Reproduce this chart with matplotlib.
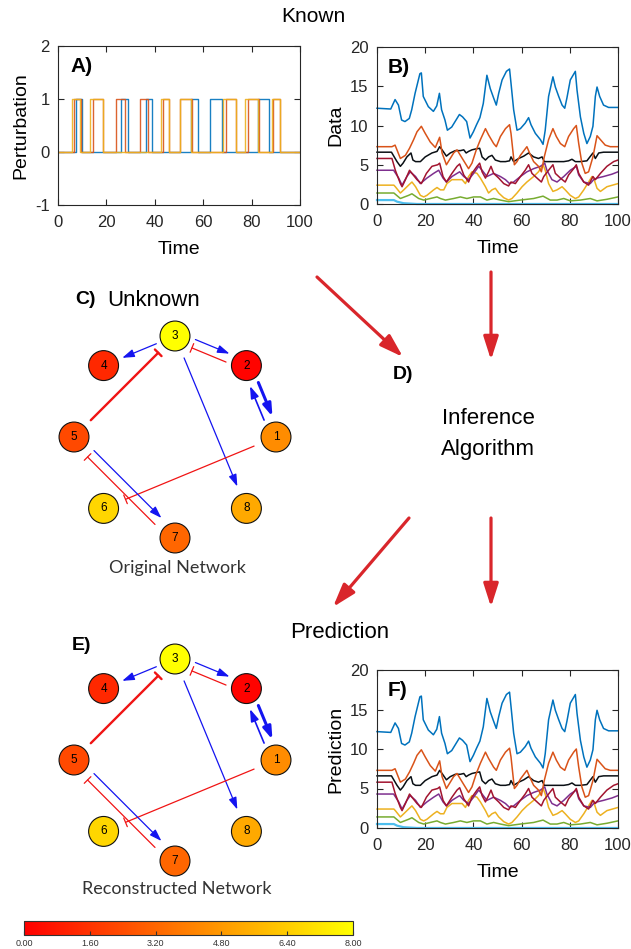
import numpy as np
import matplotlib
matplotlib.use("Agg")
import matplotlib.pyplot as plt
from matplotlib.patches import Circle, FancyArrowPatch
from matplotlib.colors import LinearSegmentedColormap, Normalize
import matplotlib.cm as cm

plt.rcParams['font.family'] = ['Liberation Sans', 'DejaVu Sans']
plt.rcParams['axes.unicode_minus'] = False

W, H = 631, 949

# ---- panel A: perturbation pulses (on, off) per input ----
pert_blue = [(7.3, 10), (26, 28.8), (36.2, 38.7), (55, 58), (62.8, 67.6), (82.5, 87)]
pert_orange = [(6.7, 9.5), (14.6, 18.6), (24.1, 27.8), (34, 37.3), (43.2, 46),
               (50.4, 55.5), (69.4, 73.6), (78.4, 82.9), (89, 91.7)]
pert_yellow = [(5.9, 9.1), (13.4, 18.5), (42.6, 46), (50.4, 55), (68, 73.6),
               (77.4, 82.5), (88.5, 91.7)]

# ---- panel B / F: time courses (time, value) ----
blue = [(0, 12.2), (5.7, 12.1), (7.5, 13.3), (8.9, 12.6), (10.2, 10.7), (11.6, 10.5), (13.4, 10.9),
        (14.4, 12.0), (15.8, 14.1), (17.8, 16.6), (18.4, 16.7), (19.2, 13.7), (21.3, 12.4),
        (23.4, 11.8), (24.8, 12.5), (25.9, 14.1), (26.8, 12.0), (28.2, 10.7), (29.2, 9.4),
        (31, 9.8), (32.8, 10.7), (34.2, 11.4), (35.5, 11.1), (37.2, 10.5), (38.6, 8.4),
        (40, 9.2), (41.3, 10.1), (42.7, 11.0), (44.1, 12.8), (45.6, 16.4), (47, 14.7),
        (48.4, 13.5), (49.5, 12.6), (50.5, 14.1), (51.9, 15.8), (53.7, 16.9), (55, 17.2),
        (55.6, 15.4), (56.7, 12.0), (58.1, 9.4), (59.5, 9.6), (61.5, 10.3), (62.9, 11.0),
        (63.9, 10.1), (65.7, 9.0), (67.8, 8.2), (68.9, 7.6), (69.8, 9.4), (71.2, 13.7),
        (73, 16.2), (74, 14.9), (75.4, 13.7), (76.8, 12.6), (77.9, 12.2), (78.8, 13.5),
        (80.2, 15.8), (82.3, 16.9), (83, 14.5), (84.4, 11.1), (85.8, 9.0), (87.1, 7.7),
        (88.5, 8.6), (89.6, 9.9), (90.6, 13.7), (91.3, 14.9), (92.4, 13.7), (94, 12.6),
        (96.1, 12.3), (100, 12.3)]
orange = [(0, 7.3), (6.2, 7.3), (7.5, 7.5), (9.7, 5.8), (11.8, 6.2), (13.5, 7.1), (15.2, 8.2),
          (16.6, 9.2), (18.4, 9.9), (20, 9.0), (22.1, 7.9), (24.2, 7.2), (26, 8.5), (27, 6.5),
          (28.8, 5.0), (30.4, 5.8), (31.8, 6.5), (33.2, 6.9), (34.6, 6.2), (36.2, 5.4), (38, 4.5),
          (39.4, 5.2), (41.2, 6.9), (42.9, 8.2), (45, 9.6), (46.3, 8.8), (48.4, 7.7), (49.5, 7.3),
          (51.2, 8.6), (53.3, 9.6), (55, 10.1), (55.6, 9.0), (57, 5.0), (58.1, 5.4), (59.5, 6.2),
          (62.2, 7.3), (63.3, 6.5), (65, 5.4), (67, 4.8), (68.2, 4.1), (69.4, 6.0), (71.2, 8.2),
          (73, 9.6), (74.4, 8.6), (76.1, 7.7), (77.9, 7.3), (79.5, 8.6), (81.6, 9.6), (82.7, 10.0),
          (83.7, 7.7), (85, 5.2), (86.4, 3.9), (87.8, 4.1), (89.6, 6.0), (91.3, 8.7), (92.7, 8.2),
          (94.7, 7.5), (96.8, 7.3), (100, 7.3)]
black = [(0, 6.6), (6, 6.6), (8.3, 5.4), (9.7, 4.8), (10.8, 5.2), (12.4, 6.0), (14.1, 6.5), (14.9, 5.6),
         (16, 5.4), (18, 5.4), (20, 6.0), (22.8, 6.5), (24.9, 6.7), (26, 7.3), (27, 6.9), (28.8, 6.1),
         (30.4, 6.5), (32.5, 6.8), (34.6, 6.8), (36, 6.9), (37, 6.5), (38, 6.7), (39.4, 6.9),
         (40.8, 7.0), (42.6, 7.1), (43.6, 6.0), (45, 5.6), (46.3, 6.0), (47.7, 6.2), (49.1, 5.6),
         (51.2, 5.4), (53.3, 5.4), (55, 5.5), (55.6, 6.0), (56.7, 5.4), (58.8, 5.8), (60.9, 6.1),
         (62.9, 6.5), (65, 6.0), (67, 5.8), (68.5, 6.0), (69.4, 5.4), (71.9, 5.4), (74.7, 5.4),
         (77.5, 5.4), (79.5, 5.5), (80.9, 5.7), (82.3, 5.4), (84.4, 5.4), (87.1, 5.5), (89.6, 6.5),
         (90.6, 5.8), (92, 6.5), (94, 6.6), (100, 6.6)]
darkred = [(0, 5.8), (6.2, 5.8), (7.6, 4.3), (9.7, 2.6), (10.4, 2.2), (11.8, 3.1), (13.5, 4.3),
           (14.5, 3.9), (16.6, 3.1), (18.4, 2.6), (20.5, 3.9), (22.8, 4.8), (25.2, 5.0), (26, 5.2),
           (27.4, 3.5), (28.8, 2.8), (31.1, 3.9), (33.2, 4.8), (34.3, 5.1), (36, 3.7), (38, 2.8),
           (39.4, 3.9), (41.5, 4.8), (42.6, 5.2), (43.6, 4.1), (45, 3.3), (46.3, 4.1), (47.3, 4.8),
           (48.4, 3.9), (50.5, 3.3), (52.6, 2.6), (54.6, 2.3), (55.6, 2.8), (57.4, 2.6), (59.5, 3.5),
           (61.5, 4.3), (62.9, 5.0), (64.3, 3.9), (66.4, 3.3), (68.2, 2.8), (69.2, 3.5), (71.2, 4.3),
           (73, 5.0), (74, 3.9), (76.1, 3.3), (78.1, 2.8), (79.5, 3.7), (81.6, 4.5), (82.7, 5.0),
           (83.7, 3.9), (85.8, 2.8), (87.8, 2.4), (89.6, 3.5), (90.6, 3.1), (92.7, 3.9), (95.4, 4.8),
           (98.2, 5.4), (100, 5.6)]
purple = [(0, 4.3), (6.9, 4.3), (9, 3.3), (10.4, 2.4), (12.4, 3.5), (13.8, 4.1), (16, 3.5), (18, 2.6),
          (20.7, 3.3), (23.5, 3.9), (25.6, 4.3), (27.4, 3.3), (28.8, 2.8), (31.1, 3.5), (33.2, 3.9),
          (34.3, 4.1), (36, 3.5), (38, 3.1), (40.1, 3.9), (42.2, 4.8), (43.6, 4.3), (45.6, 3.5),
          (48.4, 3.9), (51.2, 3.5), (53.3, 3.1), (55, 2.6), (56.7, 2.8), (59.5, 3.5), (62.2, 4.1),
          (65, 4.5), (67.8, 4.8), (69.6, 5.2), (70.5, 4.3), (72.6, 3.1), (74.7, 2.8), (77.5, 3.5),
          (80.2, 4.3), (82.7, 4.8), (83.7, 3.7), (85.8, 2.8), (88.5, 2.6), (89.9, 3.1), (91.3, 3.3),
          (94, 3.5), (97.5, 3.8), (100, 4.1)]
yellow = [(0, 2.4), (7, 2.4), (7.6, 2.2), (9.7, 1.4), (11.1, 1.8), (13.1, 2.4), (14.5, 2.8), (16, 2.2),
          (18, 1.1), (19.4, 0.9), (20.7, 1.1), (23.5, 1.8), (24.9, 2.1), (26.3, 1.8), (27.7, 1.8),
          (29, 2.6), (31.1, 3.1), (33.2, 3.1), (35.3, 3.1), (36.7, 2.6), (38, 3.5), (39.4, 4.1),
          (41.5, 3.9), (42.9, 3.3), (45, 2.2), (46.3, 1.4), (47.7, 1.8), (49.1, 2.0), (50.5, 1.4),
          (52.6, 0.8), (54.6, 0.5), (56, 0.7), (58.1, 1.4), (60.2, 2.2), (62.2, 2.8), (65, 3.5),
          (67, 4.1), (68.9, 5.0), (69.8, 4.3), (71.2, 2.6), (73, 1.6), (74.7, 1.8), (76.8, 2.2),
          (78.1, 1.8), (80.2, 1.1), (82.3, 0.7), (83.7, 0.9), (85.8, 1.8), (87.8, 2.8), (89.2, 3.5),
          (89.9, 3.3), (91.3, 2.0), (92.7, 1.6), (95.4, 2.2), (100, 2.6)]
green = [(0, 1.4), (7, 1.4), (9.7, 0.7), (13.1, 1.1), (14.5, 1.3), (17.3, 0.7), (19.4, 0.5),
         (22.1, 0.7), (24.9, 0.9), (26.3, 0.7), (28.4, 0.5), (31.8, 0.7), (34.6, 0.9), (37.3, 0.7),
         (40.1, 0.9), (42.9, 0.9), (45.6, 0.5), (48.4, 0.7), (51.2, 0.5), (54.6, 0.3), (59.5, 0.5),
         (65, 0.7), (68.9, 1.0), (71.9, 0.5), (74.7, 0.5), (77.5, 0.7), (80.2, 0.4), (84.4, 0.5),
         (88.5, 0.7), (91.3, 0.4), (95.4, 0.6), (100, 0.9)]
lightblue = [(0, 0.5), (7, 0.5), (8.3, 0.3), (11, 0.1), (16.6, 0.0), (100, 0.0)]

series = [(lightblue, '#4DBEEE'), (green, '#77AC30'), (yellow, '#EDB120'), (purple, '#7E2F8E'),
          (darkred, '#A2142F'), (black, '#0a0f14'), (orange, '#D95319'), (blue, '#0072BD')]

# ---- networks ----
ring_order = [3, 2, 1, 8, 7, 6, 5, 4]   # clockwise from top
node_level = {1: 4.4, 2: 0.1, 3: 8.0, 4: 1.25, 5: 2.3, 6: 6.7, 7: 3.2, 8: 5.3}
# (source, target, kind, line width)
edges = [(3, 4, 'act', 0.9), (5, 3, 'inh', 1.7), (3, 2, 'act', 0.9), (2, 3, 'inh', 0.9),
         (2, 1, 'act', 2.2), (1, 2, 'act', 1.2), (3, 8, 'act', 0.9), (1, 6, 'inh', 0.9),
         (5, 7, 'act', 0.9), (7, 5, 'inh', 0.9)]
cbar_ticks = [0.0, 1.6, 3.2, 4.8, 6.4, 8.0]

cmap = LinearSegmentedColormap.from_list('ry', ['#ff0000', '#ffff00'])
norm = Normalize(0, 8)


def box(x0, y0, x1, y1):
    return [x0 / W, 1 - y1 / H, (x1 - x0) / W, (y1 - y0) / H]


def matlab_axes(ax):
    for s in ax.spines.values():
        s.set_color('#262626')
        s.set_linewidth(0.8)
    ax.tick_params(direction='in', top=True, right=True, length=4, labelsize=12,
                   colors='#262626', pad=6)
    ax.tick_params(axis='x', pad=7)


def steps(pulses):
    t, v = [0], [0]
    for a, b in pulses:
        t += [a, a, b, b]
        v += [0, 1, 1, 0]
    t.append(100)
    v.append(0)
    return t, v


fig = plt.figure(figsize=(W / 100, H / 100), dpi=100)

# panel A
axA = fig.add_axes(box(58, 46, 300, 205))
for pulses, col in [(pert_blue, '#0072BD'), (pert_orange, '#D95319'), (pert_yellow, '#EDB120')]:
    t, v = steps(pulses)
    axA.plot(t, v, color=col, lw=1.0, alpha=0.9)
axA.set_xlim(0, 100)
axA.set_ylim(-1, 2)
axA.set_yticks([-1, 0, 1, 2])
axA.set_xticks(range(0, 101, 20))
axA.set_xlabel('Time', fontsize=14, labelpad=8)
axA.set_ylabel('Perturbation', fontsize=14, labelpad=4)
axA.text(0.05, 0.87, 'A)', transform=axA.transAxes, fontsize=15, weight='bold', va='center')
matlab_axes(axA)


def plot_series(ax, ylabel, tag):
    for pts, col in series:
        t = [p[0] for p in pts]
        v = [p[1] for p in pts]
        lw = 1.6 if col == '#4DBEEE' else 1.1
        ax.plot(t, v, color=col, lw=lw, clip_on=False, solid_joinstyle='round')
    ax.set_xlim(0, 100)
    ax.set_ylim(0, 20)
    ax.set_yticks([0, 5, 10, 15, 20])
    ax.set_xticks(range(0, 101, 20))
    ax.set_xlabel('Time', fontsize=14, labelpad=8)
    ax.set_ylabel(ylabel, fontsize=14, labelpad=4)
    ax.text(0.045, 0.87, tag, transform=ax.transAxes, fontsize=15, weight='bold', va='center')
    matlab_axes(ax)


axB = fig.add_axes(box(377, 47, 618, 204))
plot_series(axB, 'Data', 'B)')
axF = fig.add_axes(box(377, 670, 618, 828))
plot_series(axF, 'Prediction', 'F)')


def draw_network(cx, cy, r):
    ax = fig.add_axes(box(cx - 135, cy - 127, cx + 135, cy + 128))
    ax.set_xlim(-135 / r, 135 / r)
    ax.set_ylim(-128 / r, 127 / r)
    ax.axis('off')
    ang = np.pi / 2 - np.arange(8) * np.pi / 4
    pos = {n: np.array([np.cos(a), np.sin(a)]) for n, a in zip(ring_order, ang)}
    pair = {(a, b) for a, b, _, _ in edges}
    for a, b, kind, lw in edges:
        p0, p1 = pos[a], pos[b]
        dist = np.linalg.norm(p1 - p0)
        d = (p1 - p0) / dist
        perp = np.array([-d[1], d[0]])
        off = 0.045 if (b, a) in pair else 0.0
        gap = 0.2 if dist < 0.8 else 0.235
        s = p0 + d * gap + perp * off
        e = p1 - d * gap + perp * off
        if kind == 'act':
            col = '#1414f0'
            style = '-|>,head_length=0.6,head_width=0.2'
        else:
            col = '#f01414'
            style = '-[,widthB=0.28,lengthB=0.0'
        ax.add_patch(FancyArrowPatch(s, e, arrowstyle=style, mutation_scale=12, color=col,
                                     lw=lw, shrinkA=0, shrinkB=0, zorder=2))
    for n in ring_order:
        ax.add_patch(Circle(pos[n], 0.148, fc=cmap(norm(node_level[n])), ec='#111111',
                            lw=0.8, zorder=3))
        ax.text(pos[n][0], pos[n][1], str(n), ha='center', va='center', fontsize=8.5, zorder=4)
    return ax


draw_network(175, 437, 101)
draw_network(175, 760, 101)

# texts
def ftext(x, y, s, **kw):
    fig.text(x / W, 1 - y / H, s, **kw)


ftext(313, 17, 'Known', fontsize=15, ha='center', va='center')
ftext(340, 632, 'Prediction', fontsize=16, ha='center', va='center')
ftext(75, 300, 'C)', fontsize=14, weight='bold', va='center')
ftext(107, 300, 'Unknown', fontsize=16, va='center')
ftext(72, 645, 'E)', fontsize=14, weight='bold', va='center')
ftext(403, 374, 'D)', fontsize=14, weight='bold', ha='center', va='center')
ftext(488, 418, 'Inference', fontsize=16, ha='center', va='center')
ftext(488, 449, 'Algorithm', fontsize=16, ha='center', va='center')
ftext(177, 568, 'Original Network', fontsize=13, ha='center', va='center',
      family=['Lato', 'DejaVu Sans'], color='#333333')
ftext(177, 889, 'Reconstructed Network', fontsize=13, ha='center', va='center',
      family=['Lato', 'DejaVu Sans'], color='#333333')

# flow arrows
for (x0, y0), (x1, y1) in [((317, 277), (403, 357)), ((491, 272), (491, 360)),
                           ((409, 518), (333, 607)), ((491, 518), (491, 607))]:
    fig.add_artist(FancyArrowPatch((x0 / W, 1 - y0 / H), (x1 / W, 1 - y1 / H),
                                   transform=fig.transFigure,
                                   arrowstyle='-|>,head_length=1.0,head_width=0.32',
                                   mutation_scale=14, color='#d9262b', lw=2.3,
                                   shrinkA=0, shrinkB=0))

# colorbar
cax = fig.add_axes(box(24, 921, 353, 935))
cb = fig.colorbar(cm.ScalarMappable(norm=norm, cmap=cmap), cax=cax, orientation='horizontal')
cb.set_ticks(cbar_ticks)
cb.set_ticklabels(['%.2f' % v for v in cbar_ticks])
cb.ax.tick_params(labelsize=6.5, direction='in', length=3, colors='#333333', pad=3)
cb.outline.set_edgecolor('#333333')

fig.savefig('out.png', dpi=100)
